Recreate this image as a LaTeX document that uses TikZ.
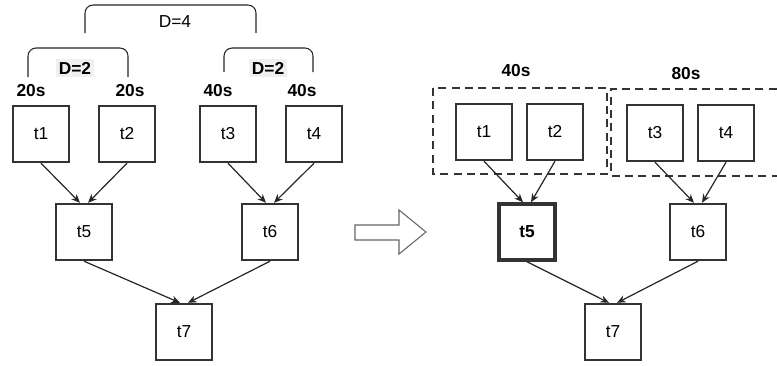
\documentclass[tikz,border=0pt]{standalone}
\usepackage{fontspec}
\setmainfont{Liberation Sans}
\usetikzlibrary{arrows.meta}
\begin{document}
\begin{tikzpicture}[
    x=0.75pt, y=-0.75pt,
    font=\fontsize{13}{15}\selectfont,
    % boxes and labels
    task/.style={rectangle, draw=black!80, line width=1.8pt, minimum size=42pt, inner sep=0pt},
    taskbold/.style={task, line width=2.6pt, font=\fontsize{13}{15}\selectfont\bfseries},
    timelbl/.style={font=\fontsize{13}{15}\selectfont\bfseries, inner sep=1pt},
    dlbl/.style={timelbl, fill=black!6, inner sep=2pt},
    brace/.style={draw=black!85, line width=0.8pt, rounded corners=6pt},
    group/.style={draw=black!80, line width=1.7pt, dash pattern=on 6pt off 4pt},
    edge/.style={draw=black!85, line width=0.9pt, -{Stealth[length=6.5pt, width=5.5pt]}},
    bigarrow/.style={draw=black!60, line width=0.8pt, fill=white},
]
\useasboundingbox (0,0) rectangle (777,365);

% =========================================================
% Left panel: task tree with deadlines
% =========================================================
% tasks
\node[task] (t1L) at ( 41,134) {t1};
\node[task] (t2L) at (127,134) {t2};
\node[task] (t3L) at (228,134) {t3};
\node[task] (t4L) at (314,134) {t4};
\node[task] (t5L) at ( 84,232) {t5};
\node[task] (t6L) at (270,232) {t6};
\node[task] (t7L) at (184,332) {t7};

% times
\node[timelbl] (s1L) at ( 31,91) {20s};
\node[timelbl] (s2L) at (130,91) {20s};
\node[timelbl] (s3L) at (218,91) {40s};
\node[timelbl] (s4L) at (302,91) {40s};

% brackets
\draw[brace] (28,77) -- (28,48) -- (128,48) -- (128,77);
\draw[brace] (224,72) -- (224,48) -- (313,48) -- (313,72);
\draw[brace] (85,33) -- (85,5) -- (256,5) -- (256,33);
\node[dlbl] (d2aL) at ( 75,68) {D=2};
\node[dlbl] (d2bL) at (268,68) {D=2};
\node       (d4L)  at (175,22) {D=4};

% edges
\draw[edge] (t1L.south) -- ([xshift=-3pt]t5L.north);
\draw[edge] (t2L.south) -- ([xshift=3pt]t5L.north);
\draw[edge] (t3L.south) -- ([xshift=-3pt]t6L.north);
\draw[edge] (t4L.south) -- ([xshift=3pt]t6L.north);
\draw[edge] (t5L.south) -- ([xshift=-3pt]t7L.north);
\draw[edge] (t6L.south) -- ([xshift=3pt]t7L.north);

% =========================================================
% Middle: transformation arrow
% =========================================================
\draw[bigarrow] (355,225) -- (399,225) -- (399,210) -- (426,232)
    -- (399,254) -- (399,240) -- (355,240) -- cycle;

% =========================================================
% Right panel: grouped tasks
% =========================================================
% groups
\draw[group] (433,88) rectangle (607,174);
\draw[group] (790,89) -- (611,89) -- (611,176) -- (790,176);
\node[timelbl] (g1R) at (516,71) {40s};
\node[timelbl] (g2R) at (686,74) {80s};

% tasks
\node[task]     (t1R) at (484,132) {t1};
\node[task]     (t2R) at (555,132) {t2};
\node[task]     (t3R) at (655,133) {t3};
\node[task]     (t4R) at (726,133) {t4};
\node[taskbold] (t5R) at (527,232) {t5};
\node[task]     (t6R) at (698,232) {t6};
\node[task]     (t7R) at (613,332) {t7};

% edges
\draw[edge] (t1R.south) -- ([xshift=-3pt]t5R.north);
\draw[edge] (t2R.south) -- ([xshift=3pt]t5R.north);
\draw[edge] (t3R.south) -- ([xshift=-3pt]t6R.north);
\draw[edge] (t4R.south) -- ([xshift=3pt]t6R.north);
\draw[edge] (t5R.south) -- ([xshift=-3pt]t7R.north);
\draw[edge] (t6R.south) -- ([xshift=3pt]t7R.north);

\end{tikzpicture}
\end{document}
